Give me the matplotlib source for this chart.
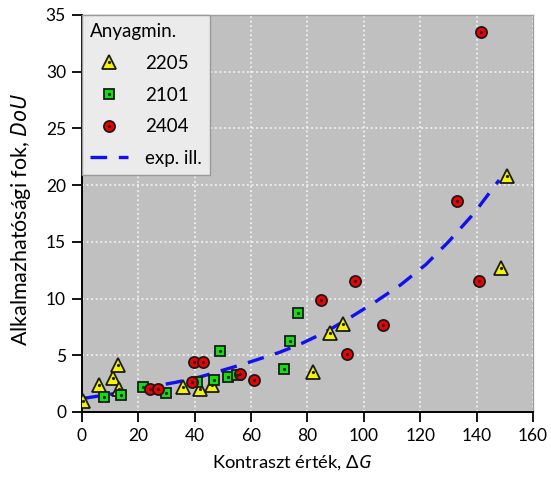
import matplotlib
matplotlib.use("Agg")
import matplotlib.pyplot as plt
from matplotlib.lines import Line2D
from matplotlib.legend_handler import HandlerTuple

# ---- data ----
tri_x = [0.5, 6.0, 11.1, 12.9, 13.2, 35.9, 41.8, 46.0, 81.8, 87.9, 92.7, 148.6, 150.8]
tri_y = [1.0, 2.36, 3.0, 4.1, 2.0, 2.2, 2.06, 2.36, 3.5, 6.97, 7.74, 12.7, 20.8]

sq_x = [7.9, 13.8, 21.7, 29.8, 40.7, 47.0, 48.9, 51.9, 54.9, 71.8, 73.8, 76.8]
sq_y = [1.3, 1.5, 2.2, 1.7, 2.6, 2.86, 5.36, 3.05, 3.25, 3.8, 6.25, 8.7]

circ_x = [24.1, 27.1, 38.9, 39.9, 42.8, 56.0, 61.0, 84.8, 93.9, 96.8, 106.9, 132.9, 140.8, 141.7]
circ_y = [2.0, 2.0, 2.65, 4.45, 4.45, 3.33, 2.86, 9.86, 5.09, 11.56, 7.65, 18.6, 11.56, 33.5]

fit_x = [0, 13, 26, 33, 42, 57, 70, 78, 86, 95, 104, 113, 122, 130, 139, 148]
fit_y = [1.18, 1.68, 2.3, 2.6, 3.1, 4.2, 5.25, 6.05, 7.0, 8.3, 9.7, 11.2, 13.0, 15.0, 17.5, 20.45]

series_labels = ["2205", "2101", "2404", "exp. ill."]
legend_title = "Anyagmin."
xlabel = "Kontraszt érték, $\\mathit{ΔG}$"
ylabel = "Alkalmazhatósági fok, $\\mathit{DoU}$"
xticks = [0, 20, 40, 60, 80, 100, 120, 140, 160]
yticks = [0, 5, 10, 15, 20, 25, 30, 35]

plt.rcParams['font.family'] = ['Lato', 'DejaVu Sans']
plt.rcParams['mathtext.fontset'] = 'custom'
plt.rcParams['mathtext.it'] = 'Noto Sans:italic'
plt.rcParams['mathtext.rm'] = 'Lato'

fig = plt.figure(figsize=(5.51, 4.79), dpi=100)
ax = fig.add_axes([0.1488, 0.1399, 0.8185, 0.8288])
ax.set_facecolor('#c0c0c0')

ax.grid(True, color='white', linestyle=(0, (1.2, 1.8)), linewidth=1.1, alpha=0.9)
ax.set_axisbelow(True)

# fit line
fit_line, = ax.plot(fit_x, fit_y, color='#1010f0', linestyle=(0, (5, 3.5)), linewidth=2.4, zorder=2)

ms = 8
ew = 1.3
tri, = ax.plot(tri_x, tri_y, linestyle='none', marker='^', markersize=ms + 1.5, markerfacecolor='#f5f500',
               markeredgecolor='#1a1a1a', markeredgewidth=ew, zorder=3)
sq, = ax.plot(sq_x, sq_y, linestyle='none', marker='s', markersize=ms - 0.5, markerfacecolor='#10e010',
              markeredgecolor='#1a1a1a', markeredgewidth=ew, zorder=3)
circ, = ax.plot(circ_x, circ_y, linestyle='none', marker='o', markersize=ms, markerfacecolor='#f00000',
                markeredgecolor='#1a1a1a', markeredgewidth=ew, zorder=3)
for xs, ys in [(tri_x, tri_y), (sq_x, sq_y), (circ_x, circ_y)]:
    ax.plot(xs, ys, linestyle='none', marker='o', markersize=1.3, color='#202020', zorder=4)

dot = Line2D([], [], linestyle='none', marker='o', markersize=1.3, color='#202020')
handles = [(tri, dot), (sq, dot), (circ, dot), fit_line]
leg = ax.legend(handles, series_labels, title=legend_title, loc='upper left',
                handler_map={tuple: HandlerTuple(ndivide=1)},
                fontsize=13.5, title_fontsize=13.5, alignment='left',
                frameon=True, fancybox=False, borderaxespad=0.0,
                handlelength=2.0, handletextpad=0.9, labelspacing=0.78,
                borderpad=0.45)
leg.get_frame().set_facecolor('#ebebeb')
leg.get_frame().set_edgecolor('#999999')
leg.get_frame().set_alpha(1)
leg.get_frame().set_linewidth(1.0)

ax.set_xlim(0, 160)
ax.set_ylim(0, 35)
ax.set_xticks(xticks)
ax.set_yticks(yticks)
ax.tick_params(direction='out', length=7, width=1.3, labelsize=12.5, colors='black', pad=4.5)

for s in ['left', 'bottom']:
    ax.spines[s].set_color('black')
    ax.spines[s].set_linewidth(1.4)
for s in ['top', 'right']:
    ax.spines[s].set_color('#a0a0a0')
    ax.spines[s].set_linewidth(1.0)

ax.set_xlabel(xlabel, fontsize=13.2, labelpad=7, x=0.465)
ax.set_ylabel(ylabel, fontsize=15.5, labelpad=9, y=0.484)

fig.savefig('out.png', dpi=100)
